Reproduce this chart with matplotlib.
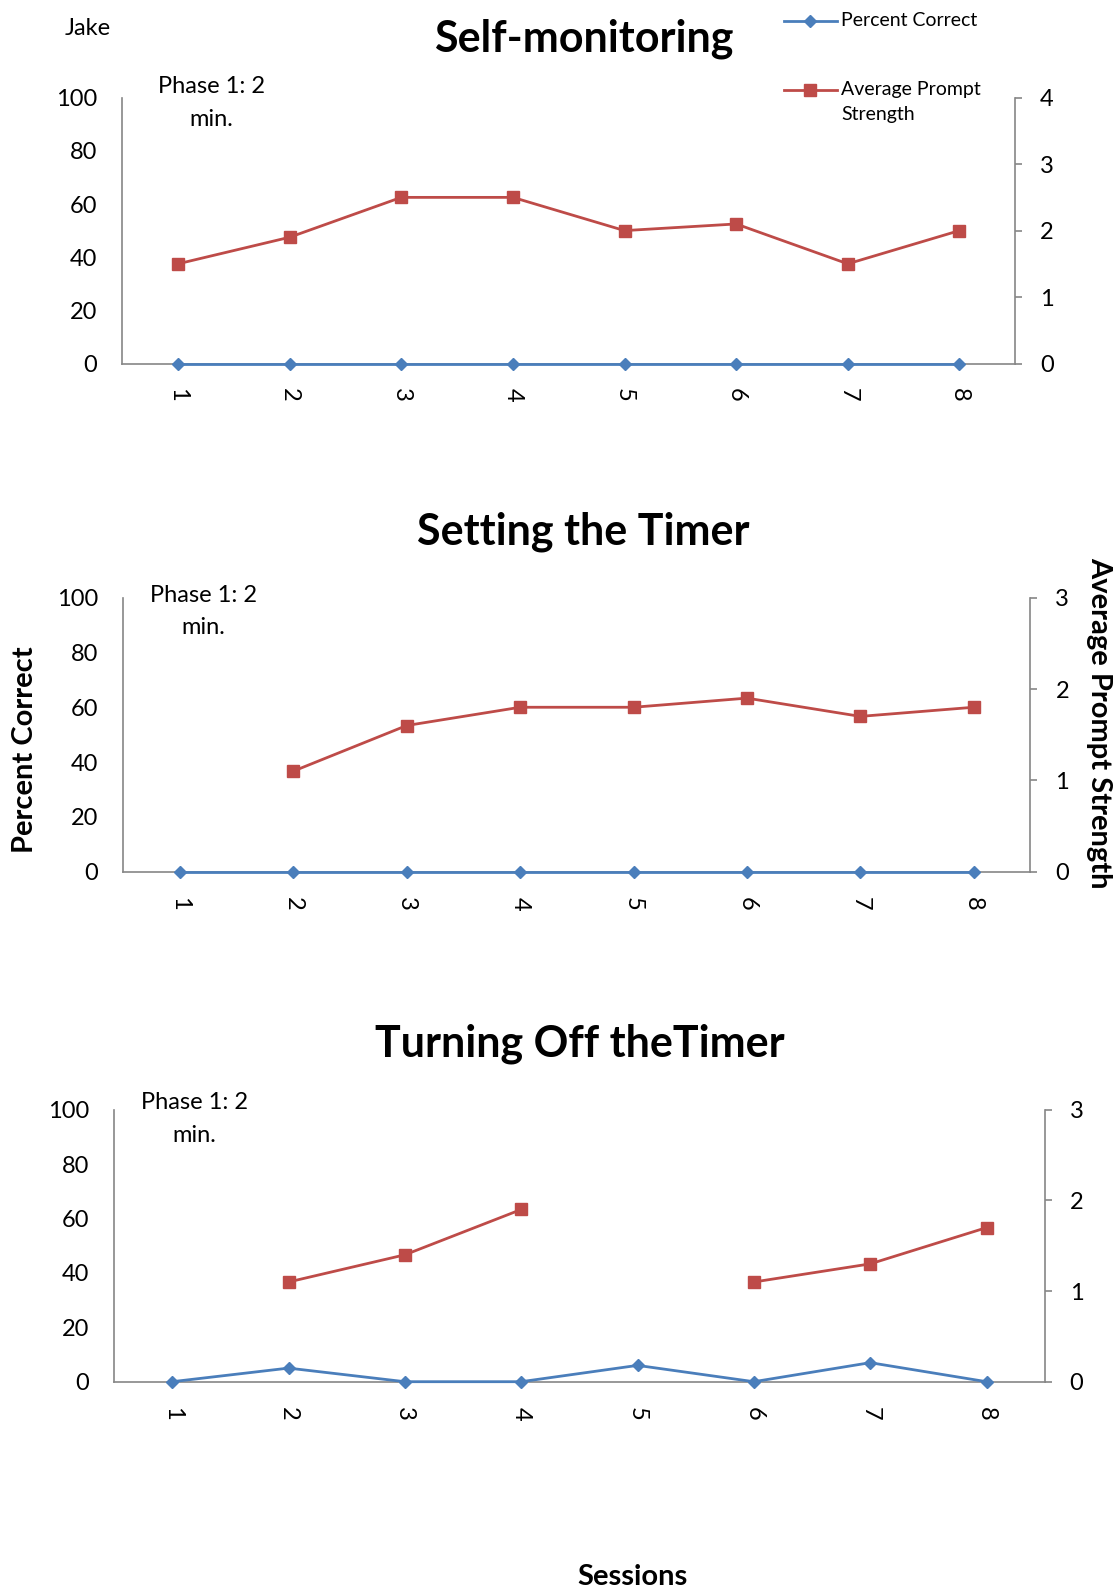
import numpy as np
import matplotlib
matplotlib.use("Agg")
import matplotlib.pyplot as plt
from matplotlib.lines import Line2D

plt.rcParams['font.family'] = ['Lato', 'DejaVu Sans']

sessions = [1, 2, 3, 4, 5, 6, 7, 8]
titles = ["Self-monitoring", "Setting the Timer", "Turning Off theTimer"]

pc_self = [0, 0, 0, 0, 0, 0, 0, 0]
aps_self = [1.5, 1.9, 2.5, 2.5, 2.0, 2.1, 1.5, 2.0]

pc_set = [0, 0, 0, 0, 0, 0, 0, 0]
aps_set = [np.nan, 1.1, 1.6, 1.8, 1.8, 1.9, 1.7, 1.8]

pc_off = [0, 5, 0, 0, 6, 0, 7, 0]
aps_off = [np.nan, 1.1, 1.4, 1.9, np.nan, 1.1, 1.3, 1.7]

pc_ticks = [0, 20, 40, 60, 80, 100]
aps_max = [4, 3, 3]

phase_text = "Phase 1: 2\nmin."

BLUE = "#4A7EBB"
RED = "#BE4B48"
GRAY = "#868686"

W, H = 1118, 1596
fig = plt.figure(figsize=(W / 100, H / 100), dpi=100)

# axes boxes in pixels: left, right, top, bottom
boxes = [(122.2, 1015.2, 97.7, 363.5),
         (123.2, 1030.4, 597.7, 871.6),
         (114.0, 1044.7, 1109.8, 1381.7)]
title_pos = [(583.4, 38.7), (583.4, 531.5), (579.4, 1043.7)]
phase_pos = [(211.8, 103.0), (203.6, 611.5), (194.5, 1119.0)]

pcs = [pc_self, pc_set, pc_off]
apss = [aps_self, aps_set, aps_off]

for i in range(3):
    l, r, t, b = boxes[i]
    ax = fig.add_axes([l / W, 1 - b / H, (r - l) / W, (b - t) / H])
    ax2 = ax.twinx()
    ax.set_zorder(ax2.get_zorder() + 1)
    ax.patch.set_visible(False)

    ax.plot(sessions, pcs[i], color=BLUE, lw=2.0, marker='D', ms=6,
            clip_on=False, zorder=5)
    ax2.plot(sessions, apss[i], color=RED, lw=2.0, marker='s', ms=8.5,
             clip_on=False, zorder=5)

    ax.set_xlim(0.5, 8.5)
    ax.set_ylim(0, 100)
    ax.set_yticks(pc_ticks)
    ax2.set_ylim(0, aps_max[i])
    ax2.set_yticks(range(0, aps_max[i] + 1))
    ax.set_xticks(sessions)
    ax.set_xticklabels([str(s) for s in sessions], rotation=270)

    for a in (ax, ax2):
        for s in a.spines.values():
            s.set_visible(False)
    ax.spines['left'].set_visible(True)
    ax.spines['bottom'].set_visible(True)
    ax2.spines['right'].set_visible(True)
    for s in (ax.spines['left'], ax.spines['bottom'], ax2.spines['right']):
        s.set_color(GRAY)
        s.set_linewidth(1.2)

    ax.tick_params(axis='y', length=0, pad=18, labelsize=17)
    ax.tick_params(axis='x', length=0, pad=18, labelsize=17)
    ax2.tick_params(axis='y', length=5, width=1.2, color=GRAY, pad=13, labelsize=17)

    fig.text(title_pos[i][0] / W, 1 - title_pos[i][1] / H, titles[i],
             ha='center', va='center', fontsize=31, fontweight='bold')
    fig.text(phase_pos[i][0] / W, 1 - phase_pos[i][1] / H, phase_text,
             ha='center', va='center', fontsize=17, linespacing=1.65)

fig.text(87.6 / W, 1 - 28.5 / H, "Jake", ha='center', va='center', fontsize=17)

# axis titles
fig.text(25.0 / W, 1 - 750 / H, "Percent Correct", rotation=90,
         ha='center', va='center', fontsize=21, fontweight='bold')
fig.text(1099.6 / W, 1 - 723 / H, "Average Prompt Strength", rotation=270,
         ha='center', va='center', fontsize=21, fontweight='bold')
fig.text(632.3 / W, 1 - 1577 / H, "Sessions",
         ha='center', va='center', fontsize=21, fontweight='bold')

# legend
leg_items = [("Percent Correct", BLUE, 'D', 6, 21.4),
             ("Average Prompt\nStrength", RED, 's', 8.5, 89.6)]
for label, col, mk, ms, y in leg_items:
    fy = 1 - y / H
    fig.add_artist(Line2D([784 / W, 837 / W], [fy, fy], color=col, lw=2.0,
                          transform=fig.transFigure))
    fig.add_artist(Line2D([810.5 / W], [fy], color=col, marker=mk, ms=ms,
                          transform=fig.transFigure))
    fig.text(841 / W, fy + 9 / H, label, ha='left', va='top', fontsize=14,
             linespacing=1.6)

fig.savefig("out.png", dpi=100)
